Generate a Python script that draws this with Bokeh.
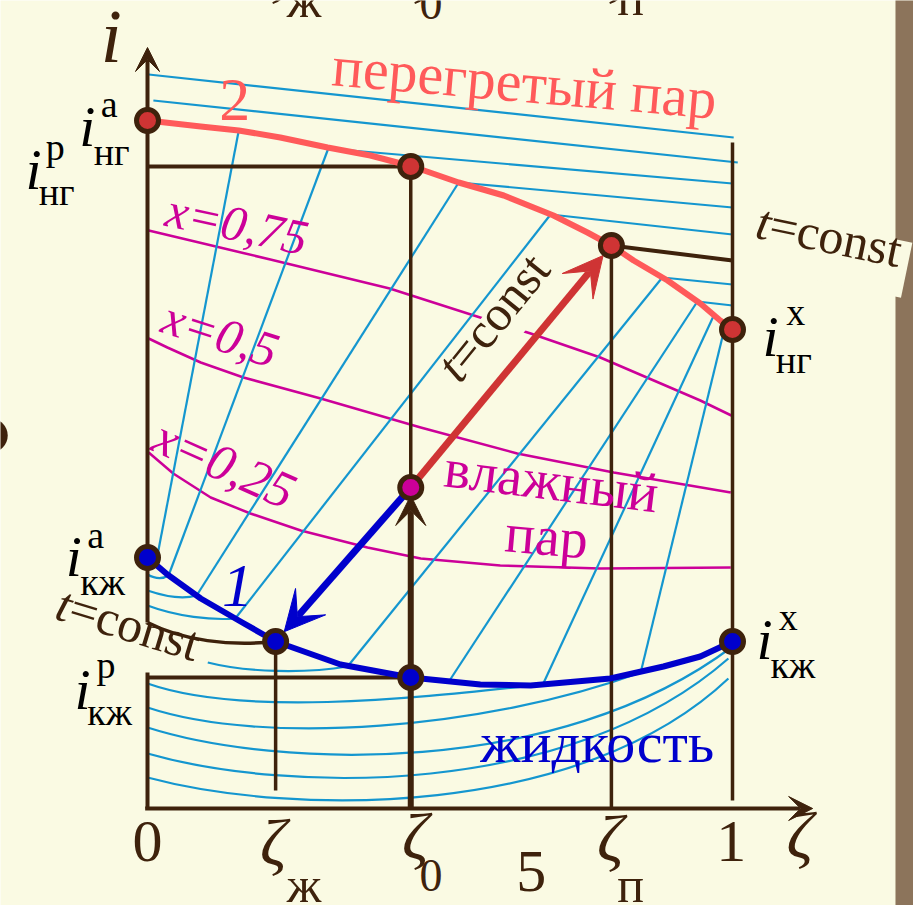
import math
from bokeh.plotting import figure
from bokeh.models import Range1d, Arrow, VeeHead
from bokeh.core.properties import value
from bokeh.embed import file_html
from bokeh.resources import INLINE

# ---------------- data: composition ζ and enthalpy i (arbitrary units) ----------------
# saturated vapour line (curve 2)
vap_zeta = [0.000, 0.091, 0.156, 0.227, 0.308, 0.381, 0.453, 0.532, 0.609, 0.694,
            0.752, 0.793, 0.831, 0.889, 0.945, 0.979, 1.000]
vap_i = [6.88, 6.82, 6.78, 6.71, 6.61, 6.53, 6.42, 6.26, 6.13, 5.93,
         5.76, 5.63, 5.48, 5.28, 5.05, 4.88, 4.79]

# boiling liquid line (curve 1)
liq_zeta = [0.000, 0.034, 0.091, 0.159, 0.219, 0.330, 0.450, 0.569, 0.655,
            0.791, 0.882, 0.945, 1.000]
liq_i = [2.51, 2.34, 2.10, 1.87, 1.67, 1.44, 1.31, 1.24, 1.23,
         1.30, 1.42, 1.52, 1.67]

# isotherms in the wet-vapour region: vapour end -> liquid end
tie_vap_zeta = [0.156, 0.309, 0.532, 0.689, 0.880, 0.940, 0.968, 0.988]
tie_vap_i = [6.78, 6.60, 6.26, 5.94, 5.31, 5.07, 4.93, 4.84]
tie_liq_zeta = [0.014, 0.036, 0.084, 0.150, 0.342, 0.513, 0.675, 0.843]
tie_liq_i = [2.44, 2.33, 2.13, 1.90, 1.42, 1.25, 1.23, 1.36]

# isotherms in the superheated-vapour region
sh_zeta0 = [0.002, 0.010, 0.309, 0.532, 0.689, 0.880, 0.940]
sh_i0 = [7.34, 7.08, 6.60, 6.26, 5.94, 5.31, 5.07]
sh_zeta1 = [1.002, 1.009, 1.000, 1.000, 1.000, 1.000, 1.000]
sh_i1 = [6.71, 6.46, 6.25, 6.01, 5.74, 5.24, 5.03]

# isotherms in the liquid region (cubic curves: start, two control points, end)
lq_z0 = [0.000, 0.000, 0.000, 0.103, 0.000, 0.000, 0.000, 0.000, 0.000]
lq_i0 = [2.34, 2.18, 2.03, 1.46, 1.25, 1.01, 0.81, 0.55, 0.31]
lq_cz0 = [0.012, 0.030, 0.050, 0.170, 0.170, 0.200, 0.220, 0.240, 0.250]
lq_ci0 = [2.30, 2.12, 1.92, 1.36, 0.90, 0.62, 0.40, 0.15, -0.08]
lq_cz1 = [0.025, 0.060, 0.110, 0.270, 0.480, 0.580, 0.700, 0.720, 0.740]
lq_ci1 = [2.29, 2.09, 1.88, 1.35, 1.12, 0.80, 0.30, 0.10, -0.10]
lq_z1 = [0.036, 0.084, 0.150, 0.342, 0.675, 0.843, 1.000, 0.993, 0.993]
lq_i1 = [2.33, 2.13, 1.90, 1.42, 1.24, 1.36, 1.62, 1.50, 1.30]

# lines of constant dryness x
x075_zeta = [0.002, 0.210, 0.414, 0.574, 0.655, 0.774, 0.945, 0.998]
x075_i = [5.78, 5.49, 5.20, 4.90, 4.75, 4.51, 4.08, 3.93]
x050_zeta = [0.002, 0.034, 0.091, 0.164, 0.296, 0.467, 0.632, 0.797, 0.997]
x050_i = [4.70, 4.61, 4.46, 4.31, 4.10, 3.81, 3.55, 3.36, 3.16]
x025_zeta = [0.002, 0.044, 0.108, 0.176, 0.262, 0.376, 0.467, 0.603, 0.774, 0.997]
x025_i = [3.56, 3.35, 3.11, 2.95, 2.78, 2.61, 2.50, 2.43, 2.40, 2.41]

# characteristic states
zeta_zh, zeta_0, zeta_p = 0.219, 0.450, 0.793
i_ng_a, i_ng_p, i_ng_x = 6.88, 6.42, 4.79
i_kzh_a, i_kzh_p, i_kzh_x = 2.51, 1.31, 1.67
i_mix, i_vap_p, i_liq_zh = 3.21, 5.63, 1.67
# isotherm t = const through the mixture state, liquid side (curve from the axis)
tl_z = [0.000, 0.060, 0.140, zeta_zh]
tl_i = [1.86, 1.68, 1.62, i_liq_zh]

# ---------------- styling ----------------
FONT = "Liberation Serif"
BG = "#FAFAE3"
STRIP = "#8C745B"
BROWN = "#3E220C"
ISO = "#1496CF"
MAGENTA = "#CC0099"
VAP_RED = "#FF5A5A"
DARK_RED = "#CF3434"
BLUE = "#0000CC"
BASE_SHIFT = 0.36   # lift of the text baseline, in em

W, H = 913, 905
Z_MIN, Z_MAX = -0.2513, 1.3094
I_MIN, I_MAX = -0.97, 8.08
PX_Z = W / (Z_MAX - Z_MIN)
PX_I = H / (I_MAX - I_MIN)

p = figure(width=W, height=H, x_range=Range1d(Z_MIN, Z_MAX), y_range=Range1d(I_MIN, I_MAX),
           x_axis_type=None, y_axis_type=None, toolbar_location=None,
           output_backend="svg", min_border=0, background_fill_color=BG,
           border_fill_color=BG, outline_line_color=None)

# dark strip at the right edge of the slide
p.quad(left=[1.2786], right=[Z_MAX + 0.05], bottom=[I_MIN - 1], top=[I_MAX + 1],
       fill_color=STRIP, line_color=None)

# dryness lines
for zs, vs in ((x075_zeta, x075_i), (x050_zeta, x050_i), (x025_zeta, x025_i)):
    p.line(zs, vs, line_color=MAGENTA, line_width=2.5, line_join="round")

# backgrounds of the rotated "t=const" captions
p.rect(x=[0.608, 1.168], y=[4.84, 5.54], width=[152, 155], height=[42, 56],
       angle=[math.radians(51), math.radians(-11.7)],
       width_units="screen", height_units="screen", fill_color=BG, line_color=None)

# isotherms
p.segment(sh_zeta0, sh_i0, sh_zeta1, sh_i1, line_color=ISO, line_width=2.2)
p.segment(tie_vap_zeta, tie_vap_i, tie_liq_zeta, tie_liq_i, line_color=ISO, line_width=2.2)
p.bezier(x0=lq_z0, y0=lq_i0, x1=lq_z1, y1=lq_i1, cx0=lq_cz0, cy0=lq_ci0,
         cx1=lq_cz1, cy1=lq_ci1, line_color=ISO, line_width=2.2)

# construction lines
p.segment(x0=[0, 0], y0=[i_ng_p, i_kzh_p], x1=[zeta_0, zeta_0], y1=[i_ng_p, i_kzh_p],
          line_color=BROWN, line_width=4)
p.segment(x0=[zeta_zh, zeta_0, zeta_p, 1.0], y0=[i_liq_zh, i_ng_p, i_vap_p, 6.66],
          x1=[zeta_zh, zeta_0, zeta_p, 1.0], y1=[0.18, i_mix, 0.0, 0.08],
          line_color=BROWN, line_width=3.5)
p.segment(x0=[zeta_p], y0=[i_vap_p], x1=[1.0], y1=[5.48], line_color=BROWN, line_width=4)
p.bezier(x0=[tl_z[0]], y0=[tl_i[0]], cx0=[tl_z[1]], cy0=[tl_i[1]], cx1=[tl_z[2]],
         cy1=[tl_i[2]], x1=[tl_z[3]], y1=[tl_i[3]], line_color=BROWN, line_width=3.5)
p.segment(x0=[0], y0=[0], x1=[0], y1=[1.36], line_color=BROWN, line_width=4)

# saturation lines
p.line(vap_zeta, vap_i, line_color=VAP_RED, line_width=6, line_join="round")
p.line(liq_zeta, liq_i, line_color=BLUE, line_width=6, line_join="round")


def edge_point(z0, i0, z1, i1, r):
    """Point r screen pixels short of (z1, i1) along the segment from (z0, i0)."""
    dx, dy = (z1 - z0) * PX_Z, (i1 - i0) * PX_I
    L = math.hypot(dx, dy)
    return z1 - r * dx / L / PX_Z, i1 - r * dy / L / PX_I


def add_arrow(z0, i0, z1, i1, color, lw, head):
    p.add_layout(Arrow(end=VeeHead(size=head, fill_color=color, line_color=color, line_width=1),
                       x_start=z0, y_start=i0, x_end=z1, y_end=i1,
                       line_color=color, line_width=lw))


tip_r = edge_point(zeta_0, i_mix, zeta_p, i_vap_p, 13)
tip_b = edge_point(zeta_0, i_mix, zeta_zh, i_liq_zh, 13)
add_arrow(zeta_0, i_mix, tip_r[0], tip_r[1], DARK_RED, 7, 40)
add_arrow(zeta_0, i_mix, tip_b[0], tip_b[1], BLUE, 7, 40)
add_arrow(zeta_0, 0.0, zeta_0, i_mix - 8 / PX_I, BROWN, 6, 30)
add_arrow(-0.004, 0.0, 1.137, 0.0, BROWN, 4, 24)
add_arrow(0.0, 1.86, 0.0, 7.61, BROWN, 4, 24)

# state points
p.scatter([0.0, zeta_0, zeta_p, 1.0], [i_ng_a, i_ng_p, i_vap_p, i_ng_x], size=22,
          fill_color=DARK_RED, line_color=BROWN, line_width=5, level="overlay")
p.scatter([0.0, zeta_zh, zeta_0, 1.0], [i_kzh_a, i_liq_zh, i_kzh_p, i_kzh_x], size=22,
          fill_color=BLUE, line_color=BROWN, line_width=5, level="overlay")
p.scatter([zeta_0], [i_mix], size=22, fill_color=MAGENTA, line_color=BROWN,
          line_width=5, level="overlay")
p.scatter([-0.268], [3.73], size=34, fill_color=BROWN, line_color=None)


def label(z, i, txt, size, color=BROWN, style="normal", align="left", angle=0.0, xo=0.0, yo=0.0):
    a = math.radians(angle)
    lift = BASE_SHIFT * size
    p.text(x=[z], y=[i], text=[txt], text_font=value(FONT), text_font_size=f"{size}px",
           text_color=color, text_font_style=style, text_align=align,
           text_baseline="alphabetic", angle=a,
           x_offset=xo - lift * math.sin(a), y_offset=yo - lift * math.cos(a))


def t_const(z, i, angle, size=50):
    label(z, i, "t", size, BROWN, "italic", angle=angle)
    d = 0.27 * size
    a = math.radians(angle)
    label(z, i, "=const", size, BROWN, angle=angle, xo=d * math.cos(a), yo=-d * math.sin(a))


# region and curve captions
label(0.313, 7.22, "перегретый пар", 58, VAP_RED, angle=-5)
label(0.149, 6.86, "2", 62, VAP_RED, align="center")
label(0.154, 2.00, "1", 62, BLUE, "italic", align="center")
label(0.027, 5.82, "x=0,75", 50, MAGENTA, "italic", angle=-12)
label(0.019, 4.76, "x=0,5", 50, MAGENTA, "italic", angle=-18)
label(0.002, 3.58, "x=0,25", 52, MAGENTA, "italic", angle=-24)
label(0.504, 3.21, "влажный", 56, MAGENTA, angle=-7)
label(0.609, 2.56, "пар", 56, MAGENTA, angle=-5)
label(0.569, 0.45, "жидкость", 58, BLUE)
t_const(0.535, 4.23, 51)
t_const(1.036, 5.70, -11.7)
t_const(-0.162, 1.89, -17)

# axis captions and ticks
label(-0.062, 7.45, "i", 76, BROWN, "italic", align="center")
label(1.115, -0.51, "ζ", 66, BROWN, "italic", align="center")
label(0.0, -0.55, "0", 60, BROWN, align="center")
label(0.998, -0.55, "1", 60, BROWN, align="center")
label(0.656, -0.85, "5", 60, BROWN, align="center")
for zc, ib, zs, isb, sub, ssz in ((0.215, -0.58, 0.238, -0.94, "ж", 50),
                                  (0.458, -0.52, 0.465, -0.84, "0", 46),
                                  (0.791, -0.54, 0.803, -0.94, "п", 50)):
    label(zc, ib, "ζ", 66, BROWN, "italic", align="center")
    label(zs, isb, sub, ssz, BROWN)
# the same tick captions repeated above, cut by the top edge
for zc, zs, isb, sub, ssz in ((0.215, 0.238, 7.91, "ж", 50),
                              (0.458, 0.465, 7.88, "0", 46),
                              (0.791, 0.803, 7.93, "п", 50)):
    label(zc, 8.14, "ζ", 66, BROWN, "italic", align="center")
    label(zs, isb, sub, ssz, BROWN)

# enthalpy labels i with superscript and subscript
i_labels = [
    (-0.103, 6.61, -0.080, 6.91, "а", -0.092, 6.43, "нг"),
    (-0.195, 6.18, -0.174, 6.48, "р", -0.186, 6.03, "нг"),
    (-0.126, 2.31, -0.103, 2.60, "а", -0.115, 2.13, "кж"),
    (-0.111, 0.98, -0.087, 1.30, "р", -0.103, 0.83, "кж"),
    (1.065, 4.51, 1.092, 4.83, "х", 1.074, 4.35, "нг"),
    (1.055, 1.48, 1.079, 1.78, "х", 1.065, 1.30, "кж"),
]
for zc, ib, zsup, isup, sup, zsub, isub, sub in i_labels:
    label(zc, ib, "i", 58, "#000000", "italic", align="center")
    label(zsup, isup, sup, 38, "#000000")
    label(zsub, isub, sub, 38, "#000000")

open("out.html", "w").write(file_html(p, INLINE))
